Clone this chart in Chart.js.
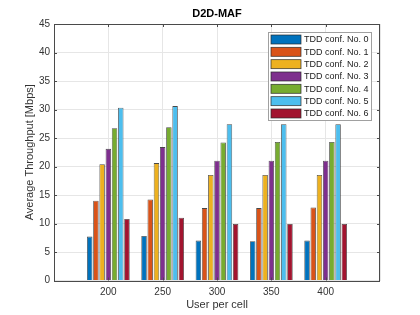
<!DOCTYPE html>
<html>
<head>
<meta charset="utf-8">
<script src="https://cdn.jsdelivr.net/npm/chart.js@4/dist/chart.umd.min.js"></script>
<style>
html,body{margin:0;padding:0;background:#fff;}
#wrap{width:420px;height:315px;position:relative;}
</style>
</head>
<body>
<div id="wrap"><canvas id="c" width="420" height="315"></canvas></div>
<script>
const chartTitle = 'D2D-MAF';
const xTitle = 'User per cell';
const yTitle = 'Average Throughput [Mbps]';
const categories = ['200', '250', '300', '350', '400'];
const seriesNames = ['TDD conf. No. 0','TDD conf. No. 1','TDD conf. No. 2','TDD conf. No. 3','TDD conf. No. 4','TDD conf. No. 5','TDD conf. No. 6'];
const conf0 = [7.7, 7.8, 7.0, 6.9, 7.0];
const conf1 = [14.0, 14.2, 12.7, 12.7, 12.8];
const conf2 = [20.4, 20.6, 18.5, 18.5, 18.5];
const conf3 = [23.1, 23.4, 21.0, 21.0, 21.0];
const conf4 = [26.7, 26.9, 24.2, 24.3, 24.3];
const conf5 = [30.3, 30.6, 27.4, 27.4, 27.4];
const conf6 = [10.8, 11.0, 9.9, 9.9, 9.9];
const yTicks = [0, 5, 10, 15, 20, 25, 30, 35, 40, 45];
const colors = ['#0072BD','#D95319','#EDB120','#7E2F8E','#77AC30','#4DBEEE','#A2142F'];

const allSeries = [conf0, conf1, conf2, conf3, conf4, conf5, conf6];
// pad the category axis with an empty slot at each end (axis spans 150..450)
const labels = [''].concat(categories, ['']);
const datasets = allSeries.map((s, i) => ({
  label: seriesNames[i],
  data: [null].concat(s, [null]),
  backgroundColor: colors[i],
  borderColor: 'rgba(40,40,40,0.85)',
  borderWidth: 0.8,
  categoryPercentage: 0.8,
  barPercentage: 0.88
}));

const FONT = "'Liberation Sans', Arial, sans-serif";

const decor = {
  id: 'decor',
  afterDatasetsDraw(chart) {
    const ctx = chart.ctx;
    const a = chart.chartArea;
    const xs = chart.scales.x, ys = chart.scales.y;
    ctx.save();
    // axes box
    ctx.strokeStyle = '#4a4a4a';
    ctx.lineWidth = 1;
    ctx.strokeRect(Math.round(a.left) + 0.5, Math.round(a.top) + 0.5, Math.round(a.right - a.left) - 1, Math.round(a.bottom - a.top));
    // inward ticks
    ctx.beginPath();
    yTicks.forEach(v => {
      const y = Math.round(ys.getPixelForValue(v)) + 0.5;
      ctx.moveTo(a.left, y); ctx.lineTo(a.left + 3, y);
      ctx.moveTo(a.right, y); ctx.lineTo(a.right - 3, y);
    });
    categories.forEach((c, i) => {
      const x = Math.round(xs.getPixelForValue(i + 1)) + 0.5;
      ctx.moveTo(x, a.bottom); ctx.lineTo(x, a.bottom - 3);
      ctx.moveTo(x, a.top); ctx.lineTo(x, a.top + 3);
    });
    ctx.stroke();
    // title
    ctx.fillStyle = '#000';
    ctx.font = 'bold 11px ' + FONT;
    ctx.textAlign = 'center';
    ctx.textBaseline = 'middle';
    ctx.fillText(chartTitle, (a.left + a.right) / 2, 14);
    // legend
    const lx = 268.5, ly = 32.5, lw = 103, lh = 88;
    ctx.fillStyle = '#fff';
    ctx.fillRect(lx, ly, lw, lh);
    ctx.strokeStyle = '#a0a0a0';
    ctx.lineWidth = 1;
    ctx.strokeRect(lx, ly, lw, lh);
    ctx.font = '9px ' + FONT;
    ctx.textAlign = 'left';
    chart.data.datasets.forEach((ds, i) => {
      const cy = 39.5 + i * 12.33;
      ctx.fillStyle = ds.backgroundColor;
      ctx.fillRect(271, cy - 4.5, 30, 9);
      ctx.strokeStyle = 'rgba(40,40,40,0.85)';
      ctx.lineWidth = 0.8;
      ctx.strokeRect(271, cy - 4.5, 30, 9);
      ctx.fillStyle = '#222';
      ctx.fillText(ds.label, 304, cy + 0.5);
    });
    ctx.restore();
  }
};

new Chart(document.getElementById('c'), {
  type: 'bar',
  data: { labels: labels, datasets: datasets },
  options: {
    responsive: false,
    animation: false,
    layout: { padding: { left: 0, right: 40, top: 24, bottom: 0 } },
    plugins: { legend: { display: false }, title: { display: false }, tooltip: { enabled: false } },
    scales: {
      x: {
        offset: false,
        grid: { color: '#e6e6e6', drawTicks: false, offset: false },
        border: { display: false },
        ticks: { color: '#333', font: { family: FONT, size: 10 }, padding: 6, autoSkip: false, maxRotation: 0 },
        title: { display: true, text: xTitle, color: '#333', font: { family: FONT, size: 11 }, padding: { top: 0, bottom: 3 } },
        afterFit(s) { s.height = 34.5; }
      },
      y: {
        min: 0, max: 45,
        afterBuildTicks(s) { s.ticks = yTicks.map(v => ({ value: v })); },
        grid: { color: '#e6e6e6', drawTicks: false },
        border: { display: false },
        ticks: { color: '#333', font: { family: FONT, size: 10 }, padding: 4 },
        title: { display: true, text: yTitle, color: '#333', font: { family: FONT, size: 11 }, padding: { top: 23, bottom: 0 } },
        afterFit(s) { s.width = 54; }
      }
    }
  },
  plugins: [decor]
});
</script>
</body>
</html>
